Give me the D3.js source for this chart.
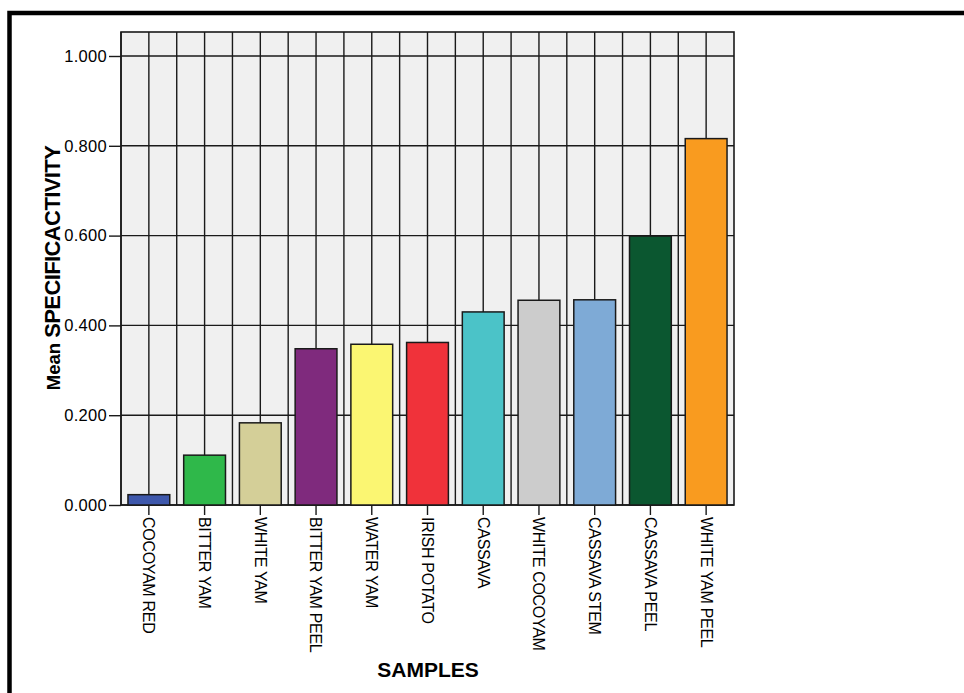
<!DOCTYPE html>
<html><head><meta charset="utf-8">
<script src="https://cdn.jsdelivr.net/npm/d3@7"></script>
<style>body{margin:0;background:#fff}svg{display:block}text{font-family:"Liberation Sans",Arial,sans-serif}</style>
</head><body>
<svg id="c" width="964" height="693"></svg>
<script>
const categories = ["COCOYAM RED","BITTER YAM","WHITE YAM","BITTER YAM PEEL","WATER YAM","IRISH POTATO","CASSAVA","WHITE COCOYAM","CASSAVA STEM","CASSAVA PEEL","WHITE YAM PEEL"];
const values = [0.023,0.111,0.183,0.348,0.358,0.362,0.430,0.456,0.457,0.599,0.816];
const colors = ["#3e58ac","#2fb84a","#d4cf98","#7f2a7d","#fbf672","#f0323a","#4bc3c8","#cccccc","#7eaad6","#0b5730","#f99b1f"];
const yTicks = [0,0.2,0.4,0.6,0.8,1.0];

const svg = d3.select("#c");
const L=121, R=734, T=32, B=505;
svg.append("rect").attr("x",9.5).attr("y",13).attr("width",1000).attr("height",720)
  .attr("fill","none").attr("stroke","#000").attr("stroke-width",4.5);

const x = d3.scaleBand().domain(categories).range([L,R]).paddingInner(0).paddingOuter(0);
const y = d3.scaleLinear().domain([0,(B-T)/449]).range([B,T]);

svg.append("rect").attr("x",L).attr("y",T).attr("width",R-L).attr("height",B-T).attr("fill","#f0f0f0");
const g = svg.append("g");
const vx=[];
categories.forEach(c=>{vx.push(x(c)); vx.push(x(c)+x.bandwidth()/2);});
g.selectAll("line.v").data(vx).join("line").attr("x1",d=>d).attr("x2",d=>d).attr("y1",T).attr("y2",B)
  .attr("stroke","#1a1a1a").attr("stroke-width",1.4);
g.selectAll("line.h").data(yTicks).join("line").attr("x1",L).attr("x2",R).attr("y1",d=>y(d)).attr("y2",d=>y(d))
  .attr("stroke","#1a1a1a").attr("stroke-width",1.4);
svg.append("rect").attr("x",L).attr("y",T).attr("width",R-L).attr("height",B-T).attr("fill","none")
  .attr("stroke","#1a1a1a").attr("stroke-width",1.6);

const bw = x.bandwidth()*0.75;
svg.selectAll("rect.bar").data(values).join("rect").attr("class","bar")
  .attr("x",(d,i)=>x(categories[i])+x.bandwidth()/2-bw/2).attr("width",bw)
  .attr("y",d=>y(d)).attr("height",d=>y(0)-y(d))
  .attr("fill",(d,i)=>colors[i]).attr("stroke","#1a1a1a").attr("stroke-width",1.5);

const ya = svg.append("g").attr("transform",`translate(${L},0)`)
  .call(d3.axisLeft(y).tickValues(yTicks).tickFormat(d3.format(".3f")).tickSize(12).tickPadding(2));
ya.select(".domain").remove();
ya.selectAll("line").attr("stroke","#1a1a1a").attr("stroke-width",1.4);
ya.selectAll("text").attr("font-size",16.5).attr("fill","#000").attr("letter-spacing",0.3)
  .style("font-family","Liberation Sans, Arial");

const xa = svg.append("g").attr("transform",`translate(0,${B})`)
  .call(d3.axisBottom(x).tickSize(10).tickPadding(0));
xa.select(".domain").remove();
xa.selectAll("line").attr("stroke","#1a1a1a").attr("stroke-width",1.4);
xa.selectAll("text").attr("font-size",16).attr("fill","#000").attr("text-anchor","start")
  .attr("dy","0.35em").attr("transform","translate(0,12) rotate(90)").attr("y",0).attr("x",0)
  .style("font-family","Liberation Sans, Arial").attr("letter-spacing",-0.3);

svg.append("text").attr("x",428).attr("y",677).attr("text-anchor","middle")
  .attr("font-size",21).attr("font-weight","bold").text("SAMPLES");
const yt = svg.append("text").attr("transform","translate(60,268) rotate(-90)").attr("text-anchor","middle")
  .attr("font-weight","bold");
yt.append("tspan").attr("font-size",18.5).text("Mean ");
yt.append("tspan").attr("font-size",22).attr("letter-spacing",-0.6).text("SPECIFICACTIVITY");
</script>
</body></html>
